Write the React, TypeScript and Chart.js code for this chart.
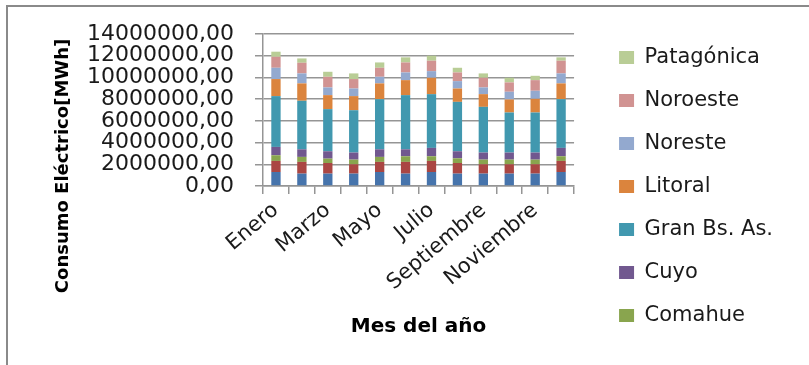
import React, { useEffect, useRef } from 'react';
import { Chart, registerables } from 'chart.js';

Chart.register(...registerables);

// ---- data ----
const months = ['Enero', 'Febrero', 'Marzo', 'Abril', 'Mayo', 'Junio', 'Julio', 'Agosto', 'Septiembre', 'Octubre', 'Noviembre', 'Diciembre'];
const regionNames = ['Buenos Aires', 'Centro', 'Comahue', 'Cuyo', 'Gran Bs. As.', 'Litoral', 'Noreste', 'Noroeste', 'Patagónica'];
const buenosAires = [1290000, 1140000, 1140000, 1140000, 1290000, 1140000, 1290000, 1140000, 1140000, 1140000, 1140000, 1290000];
const centro = [1020000, 1080000, 980000, 860000, 930000, 1080000, 1020000, 980000, 860000, 860000, 860000, 1020000];
const comahue = [520000, 460000, 400000, 430000, 460000, 520000, 430000, 430000, 430000, 430000, 430000, 430000];
const cuyo = [770000, 700000, 680000, 650000, 700000, 640000, 770000, 650000, 650000, 650000, 650000, 770000];
const granBsAs = [4680000, 4470000, 3880000, 3900000, 4620000, 4990000, 4950000, 4550000, 4210000, 3690000, 3690000, 4490000];
const litoral = [1570000, 1600000, 1290000, 1300000, 1450000, 1380000, 1510000, 1230000, 1170000, 1200000, 1260000, 1450000];
const noreste = [1040000, 920000, 710000, 700000, 610000, 710000, 610000, 680000, 620000, 710000, 740000, 920000];
const noroeste = [1010000, 980000, 980000, 870000, 830000, 920000, 960000, 800000, 890000, 860000, 980000, 1170000];
const patagonica = [470000, 400000, 460000, 520000, 490000, 470000, 460000, 430000, 400000, 430000, 400000, 310000];
const seriesValues = [buenosAires, centro, comahue, cuyo, granBsAs, litoral, noreste, noroeste, patagonica];
const yAxisMin = 0;
const yAxisMax = 14000000;
const yAxisStep = 2000000;
const yTitle = 'Consumo Eléctrico[MWh]';
const xTitle = 'Mes del año';

// ---- styles ----
const seriesColors = ['#4674ac', '#aa4643', '#89a54e', '#71588f', '#4198af', '#db843d', '#93a9cf', '#d19392', '#b9cd96'];
const FONT = '"DejaVu Sans", sans-serif';
const TEXT = '#1a1a1a';
const GRID = '#959595';

const yTitlePlugin = {
  id: 'yTitlePlugin',
  afterDraw(chart: any) {
    const ctx = chart.ctx;
    ctx.save();
    ctx.translate(63, 166);
    ctx.rotate(-Math.PI / 2);
    ctx.font = `bold 18px ${FONT}`;
    ctx.fillStyle = '#000';
    ctx.textAlign = 'center';
    ctx.textBaseline = 'middle';
    ctx.fillText(yTitle, 0, 0);
    ctx.restore();
  },
};

const legendShiftPlugin = {
  id: 'legendShiftPlugin',
  afterLayout(chart: any) {
    const lg = chart.legend;
    if (lg) {
      lg.left += 23;
      lg.right += 23;
    }
  },
};

export default function App() {
  const ref = useRef<HTMLCanvasElement | null>(null);

  useEffect(() => {
    if (!ref.current) return;
    const chart = new Chart(ref.current, {
      type: 'bar',
      data: {
        labels: months,
        datasets: regionNames.map((name, i) => ({
          label: name,
          data: seriesValues[i],
          backgroundColor: seriesColors[i],
          borderWidth: 0,
          categoryPercentage: 1,
          barPercentage: 0.36,
        })),
      },
      options: {
        responsive: false,
        animation: false,
        layout: { padding: { top: 25, left: 0, right: 49, bottom: 0 } },
        plugins: {
          legend: {
            position: 'right',
            align: 'start',
            reverse: true,
            labels: {
              filter: (item: any) => item.datasetIndex >= 2,
              boxWidth: 15,
              boxHeight: 13,
              padding: 22,
              color: TEXT,
              font: { family: FONT, size: 21 },
            },
          },
          tooltip: { enabled: false },
        },
        scales: {
          x: {
            stacked: true,
            afterFit: (s: any) => { s.height = 179; },
            grid: { drawOnChartArea: false, drawTicks: true, tickLength: 8, color: GRID, lineWidth: 1.5, offset: true },
            border: { display: true, color: GRID, width: 1.5 },
            ticks: {
              autoSkip: false,
              minRotation: 40,
              maxRotation: 40,
              padding: 4,
              color: TEXT,
              font: { family: FONT, size: 21 },
              callback: (_v: any, i: number) => (i % 2 === 0 ? months[i] : ''),
            },
            title: {
              display: true,
              text: xTitle,
              color: '#000',
              font: { family: FONT, size: 20, weight: 'bold', lineHeight: 1.2 },
              padding: { top: 0, bottom: 26 },
            },
          },
          y: {
            stacked: true,
            min: yAxisMin,
            max: yAxisMax,
            afterFit: (s: any) => { s.width = 263; s.paddingTop = 34; },
            grid: { color: GRID, lineWidth: 1.5, tickLength: 8, drawTicks: true },
            border: { display: true, color: GRID, width: 1.5 },
            ticks: {
              stepSize: yAxisStep,
              autoSkip: false,
              maxTicksLimit: 20,
              padding: 21,
              color: TEXT,
              font: { family: FONT, size: 22, lineHeight: 1 },
              callback: (v: any) => Number(v).toFixed(2).replace('.', ','),
            },
          },
        },
      },
      plugins: [yTitlePlugin, legendShiftPlugin],
    } as any);
    return () => chart.destroy();
  }, []);

  return (
    <div style={{ position: 'absolute', left: 0, top: 0, width: 809, height: 365, background: '#fff', overflow: 'hidden' }}>
      <div style={{ position: 'absolute', left: 6, top: 5, right: -10, bottom: -10, borderTop: '2px solid #8a8a8a', borderLeft: '2px solid #8a8a8a' }} />
      <canvas ref={ref} width={809} height={365} style={{ position: 'absolute', left: 0, top: 0, display: 'block' }} />
    </div>
  );
}
